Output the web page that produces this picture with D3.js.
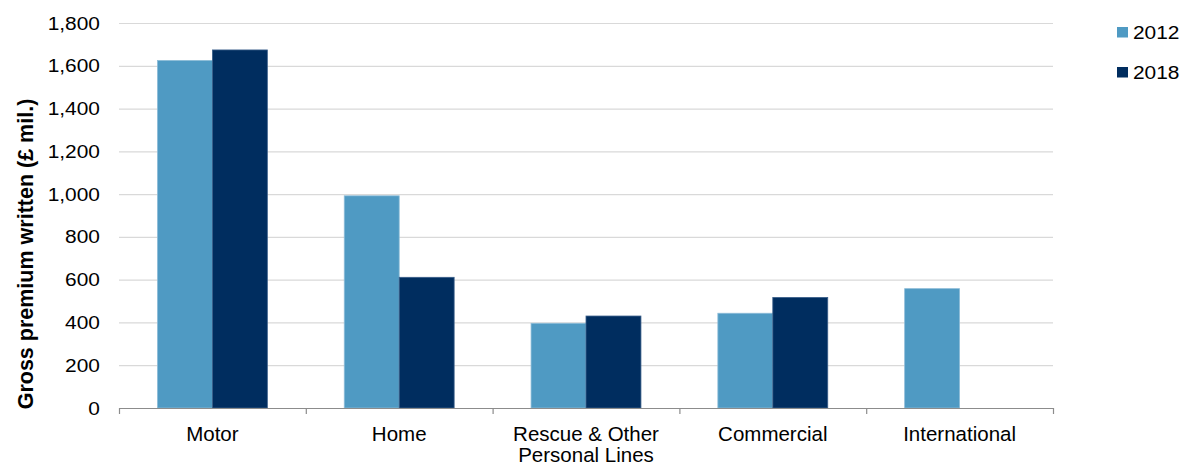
<!DOCTYPE html>
<html><head><meta charset="utf-8">
<script src="https://cdn.jsdelivr.net/npm/d3@7"></script>
<style>body{margin:0;background:#fff;font-family:"Liberation Sans",Arial,sans-serif;}</style>
</head><body><svg id="c" width="1183" height="466"></svg>
<script>
const categories = ["Motor","Home","Rescue & Other\nPersonal Lines","Commercial","International"];
const seriesNames = ["2012","2018"];
const values2012 = [1625, 992, 396, 443, 558];
const values2018 = [1674, 611, 430, 517, 0];
const yTicks = [0,200,400,600,800,1000,1200,1400,1600,1800];
const colors = ["#4F9AC3","#002D5F"];

const svg = d3.select("#c");
const m = {l:119, r:1053, t:23, b:408};
const x = d3.scaleBand().domain(categories).range([m.l, m.r]).paddingInner(0).paddingOuter(0);
const y = d3.scaleLinear().domain([0,1800]).range([m.b, m.t]);
const gapRatio = 1.4;
const bw = x.bandwidth() / (2 + gapRatio);
const x1 = d3.scaleBand().domain(seriesNames).range([0, 2*bw]);

// gridlines
svg.append("g").selectAll("line").data(yTicks.filter(d=>d>0)).join("line")
  .attr("x1", m.l).attr("x2", m.r).attr("y1", d=>y(d)+0.5).attr("y2", d=>y(d)+0.5)
  .attr("stroke","#D9D9D9").attr("stroke-width",1.2);

// y axis
const ya = svg.append("g").attr("transform",`translate(100,0)`)
  .call(d3.axisLeft(y).tickValues(yTicks).tickSize(0).tickPadding(0).tickFormat(d3.format(",")));
ya.select(".domain").remove();
ya.selectAll("text").attr("font-size",19).attr("font-family","Liberation Sans, Arial, sans-serif")
  .attr("fill","#000").attr("transform","scale(1.1,1)");

const data = [values2012, values2018];
categories.forEach((c,i)=>{
  seriesNames.forEach((s,j)=>{
    const v = data[j][i];
    if (v <= 0) return;
    svg.append("rect")
      .attr("x", x(c) + (x.bandwidth()-2*bw)/2 + x1(s))
      .attr("y", y(v)).attr("width", bw).attr("height", y(0)-y(v))
      .attr("fill", colors[j]).attr("stroke", j===0?"#8DBCD8":"#3A5F8A").attr("stroke-width",0.8);
  });
});

// x axis
svg.append("line").attr("x1",m.l).attr("x2",m.r).attr("y1",m.b+0.5).attr("y2",m.b+0.5).attr("stroke","#8C8C8C").attr("stroke-width",1.2);
const tickXs = categories.map(c=>x(c)).concat([m.r]);
svg.append("g").selectAll("line").data(tickXs).join("line")
  .attr("x1",d=>d+0.5).attr("x2",d=>d+0.5).attr("y1",m.b).attr("y2",m.b+6)
  .attr("stroke","#8C8C8C").attr("stroke-width",1.2);
categories.forEach(c=>{
  const lines = c.split("\n");
  const t = svg.append("text").attr("x", x(c)+x.bandwidth()/2).attr("y", 441)
    .attr("text-anchor","middle").attr("font-size",20.5).attr("fill","#000");
  lines.forEach((l,k)=>t.append("tspan").attr("x", x(c)+x.bandwidth()/2).attr("dy", k?20.5:0).text(l));
});

// y title
svg.append("text").attr("transform","translate(33,254) rotate(-90)").attr("text-anchor","middle")
  .attr("font-size",21.5).attr("font-weight","bold").attr("fill","#000").text("Gross premium written (£ mil.)");

// legend
seriesNames.forEach((s,j)=>{
  const ly = 32 + j*40;
  svg.append("rect").attr("x",1117).attr("y",ly-5).attr("width",11).attr("height",10.5).attr("fill",colors[j]);
  svg.append("text").attr("transform",`translate(1133,${ly+6.5}) scale(1.1,1)`).attr("font-size",19).attr("fill","#000").text(s);
});
</script></body></html>
